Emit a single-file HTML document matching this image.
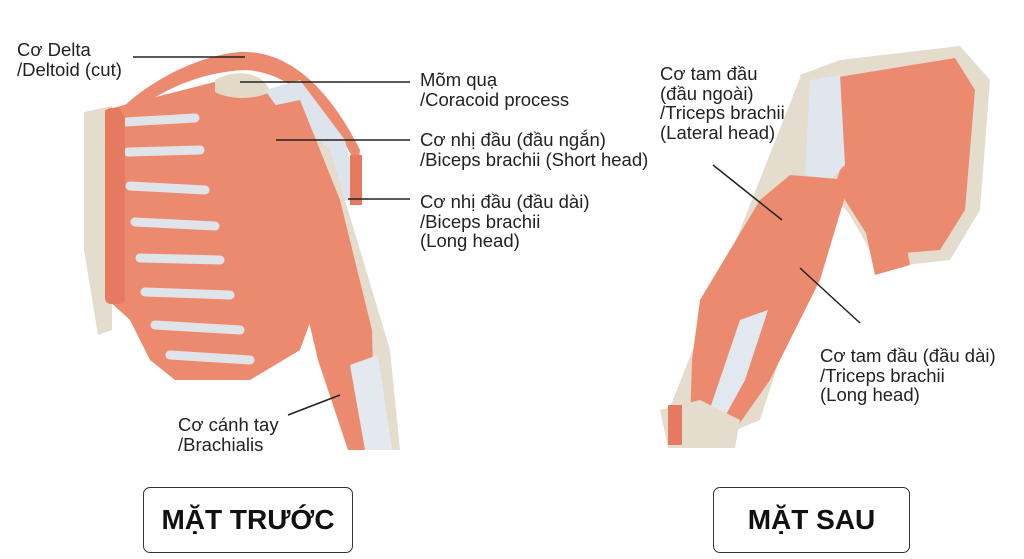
<!DOCTYPE html>
<html><head><meta charset="utf-8"><style>
html,body{margin:0;padding:0;background:#fff;}
body{width:1024px;height:559px;position:relative;overflow:hidden;font-family:"Liberation Sans","Noto Sans CJK SC",sans-serif;}
.t{position:absolute;font-size:18.5px;color:#222;line-height:19.5px;white-space:nowrap;}
.box{position:absolute;border:1.5px solid #333;border-radius:7px;font-weight:bold;font-size:28px;display:flex;align-items:center;justify-content:center;color:#111;}
svg{position:absolute;left:0;top:0;}
</style></head><body>
<svg width="1024" height="559" viewBox="0 0 1024 559">
<polygon points="84,112 112,106 112,330 98,335 84,250" fill="#e4dccd"/>
<path d="M105,110 L230,78 L290,95 L320,200 L318,300 L300,350 L250,380 L175,380 L150,360 L130,320 L108,300 Z" fill="#ec8a70"/>
<g stroke="#dfe4ea" stroke-width="9" stroke-linecap="round">
<line x1="125" y1="122" x2="195" y2="118"/>
<line x1="128" y1="152" x2="200" y2="150"/>
<line x1="130" y1="186" x2="205" y2="190"/>
<line x1="135" y1="222" x2="215" y2="226"/>
<line x1="140" y1="258" x2="220" y2="260"/>
<line x1="145" y1="292" x2="230" y2="295"/>
<line x1="155" y1="325" x2="240" y2="330"/>
<line x1="170" y1="355" x2="250" y2="360"/>
</g>
<rect x="105" y="108" width="20" height="196" rx="6" fill="#e67a60"/>
<path d="M120,110 C150,80 200,55 240,52 C290,50 330,90 360,150 L358,168 C330,110 290,72 245,70 C200,72 160,90 125,118 Z" fill="#eb8a6f"/>
<path d="M215,80 C235,68 265,72 270,92 C255,100 230,100 215,92 Z" fill="#e3d9c7"/>
<path d="M265,90 L300,80 L345,140 L360,205 L330,195 L300,140 Z" fill="#dde4ec"/>
<rect x="350" y="155" width="12" height="50" fill="#e67a60"/>
<path d="M300,120 L330,150 L390,350 L400,450 L370,450 Z" fill="#e4dccd"/>
<path d="M262,108 L300,100 L340,200 L372,330 L375,450 L348,450 L318,360 L292,250 L278,170 Z" fill="#ec8a70"/>
<path d="M350,365 L378,355 L392,450 L365,450 Z" fill="#e4e9ef"/>
<path d="M800,75 L840,60 L960,46 L990,80 L980,210 L950,260 L880,268 L850,215 L820,180 Z" fill="#e4dccd"/>
<path d="M820,80 L955,58 L975,90 L965,210 L940,250 L880,255 L845,200 L825,150 Z" fill="#ec8a70"/>
<path d="M860,205 L900,210 L910,265 L875,275 Z" fill="#ea8a6f"/>
<path d="M800,78 L835,72 L840,170 L760,420 L700,445 L665,420 Z" fill="#e4dccd"/>
<path d="M810,80 L840,75 L845,165 L830,180 L805,175 Z" fill="#dfe6ee"/>
<path d="M700,300 L760,200 L790,175 L850,180 L820,280 L770,380 L735,430 L690,425 L692,360 Z" fill="#ec8a70"/>
<path d="M740,320 L768,310 L745,380 L712,440 L700,438 Z" fill="#e2e8ef"/>
<path d="M660,410 L700,400 L740,420 L735,448 L668,448 Z" fill="#e4dccd"/>
<rect x="668" y="405" width="14" height="40" fill="#e67a60"/>
<g stroke="#222" stroke-width="1.5">
<line x1="133" y1="57" x2="245" y2="57"/>
<line x1="240" y1="82" x2="410" y2="82"/>
<line x1="276" y1="140" x2="410" y2="140"/>
<line x1="348" y1="199" x2="410" y2="199"/>
<line x1="340" y1="395" x2="288" y2="415"/>
<line x1="713" y1="165" x2="782" y2="220"/>
<line x1="800" y1="268" x2="860" y2="323"/>
</g>
</svg>
<div class="t" style="left:17px;top:40px">Cơ Delta<br>/Deltoid (cut)</div>
<div class="t" style="left:420px;top:70px">Mõm quạ<br>/Coracoid process</div>
<div class="t" style="left:420px;top:130px">Cơ nhị đầu (đầu ngắn)<br>/Biceps brachii (Short head)</div>
<div class="t" style="left:420px;top:192px">Cơ nhị đầu (đầu dài)<br>/Biceps brachii<br>(Long head)</div>
<div class="t" style="left:178px;top:415px">Cơ cánh tay<br>/Brachialis</div>
<div class="t" style="left:660px;top:64px">Cơ tam đầu<br>(đầu ngoài)<br>/Triceps brachii<br>(Lateral head)</div>
<div class="t" style="left:820px;top:346px">Cơ tam đầu (đầu dài)<br>/Triceps brachii<br>(Long head)</div>
<div class="box" style="left:143px;top:487px;width:208px;height:64px">MẶT TRƯỚC</div>
<div class="box" style="left:713px;top:487px;width:195px;height:64px">MẶT SAU</div>
</body></html>
